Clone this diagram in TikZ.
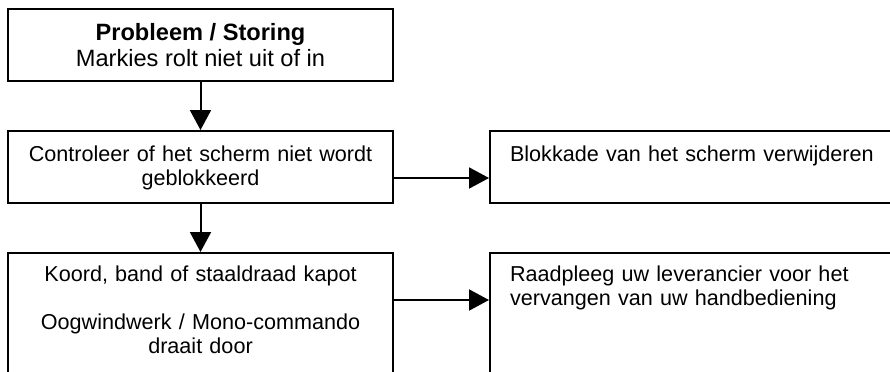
\documentclass[tikz,border=0pt]{standalone}
\usepackage{fontspec}
\setmainfont{Liberation Sans}
\usetikzlibrary{arrows.meta,positioning}
\tikzset{
  probbox/.style={rectangle,draw,line width=1pt,minimum width=192.5pt,
    minimum height=36pt,align=center,inner sep=0pt,
    font=\fontsize{11.8pt}{13pt}\selectfont},
  stepbox/.style={rectangle,draw,line width=1pt,text width=192.5pt,
    align=center,inner sep=0pt,font=\fontsize{10.8pt}{12pt}\selectfont},
  fixbox/.style={stepbox,text width=186.5pt,inner xsep=10pt,align=left},
  % text sits at the top of the boxes
  rowtwo/.style={text height=15pt,text depth=21pt},
  rowthree/.style={text height=14pt,text depth=60pt},
  arr/.style={-{Triangle[length=10pt,width=10.5pt]},line width=1pt}
}

\begin{document}
\begin{tikzpicture}[node distance=24pt and 47.5pt]
  \path[use as bounding box] (0,0) rectangle (445pt,-185.5pt);
  \clip (0,0) rectangle (445pt,-185.5pt);
  \fill[white] (0,0) rectangle (445pt,-185.5pt);
  \node[probbox,anchor=north west] (prob) at (3.5pt,-4pt)
    {\textbf{Probleem / Storing}\\Markies rolt niet uit of in};
  \node[stepbox,rowtwo,below=of prob] (check)
    {Controleer of het scherm niet wordt\\geblokkeerd};
  \node[fixbox,rowtwo,right=of check] (fix1)
    {Blokkade van het scherm verwijderen};
  \node[stepbox,rowthree,below=of check] (cause)
    {Koord, band of staaldraad kapot\\[12pt]Oogwindwerk / Mono-commando\\draait door};
  \node[fixbox,rowthree,right=of cause] (fix2)
    {Raadpleeg uw leverancier voor het\\vervangen van uw handbediening};
  \draw[arr] (prob) -- (check);
  \draw[arr] (check) -- (cause);
  \draw[arr] ([yshift=-24pt]check.north east) -- ([yshift=-24pt]fix1.north west);
  \draw[arr] ([yshift=-24pt]cause.north east) -- ([yshift=-24pt]fix2.north west);
\end{tikzpicture}
\end{document}
